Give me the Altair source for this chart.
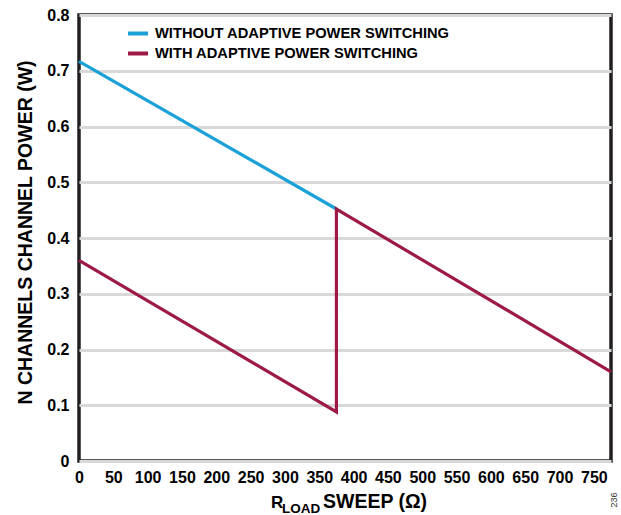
import altair as alt
import pandas as pd

# Data
series_without = "WITHOUT ADAPTIVE POWER SWITCHING"
series_with = "WITH ADAPTIVE POWER SWITCHING"

without_x = [0, 375]
without_y = [0.717, 0.452]

with_x = [0, 375, 375, 775]
with_y = [0.360, 0.088, 0.452, 0.160]

x_ticks = list(range(0, 751, 50))
y_ticks = [0, 0.1, 0.2, 0.3, 0.4, 0.5, 0.6, 0.7, 0.8]

rows = []
for i, (x, y) in enumerate(zip(without_x, without_y)):
    rows.append({"series": series_without, "x": x, "y": y, "order": i})
for i, (x, y) in enumerate(zip(with_x, with_y)):
    rows.append({"series": series_with, "x": x, "y": y, "order": i})
df = pd.DataFrame(rows)

FONT = "Liberation Sans"

lines = alt.Chart(df).mark_line(strokeWidth=3.2).encode(
    x=alt.X("x:Q",
            scale=alt.Scale(domain=[0, 775], nice=False, zero=True),
            axis=alt.Axis(values=x_ticks, title=None, grid=False, ticks=False,
                          domain=False, labelFontSize=16, labelFontWeight="bold",
                          labelFont=FONT, labelColor="black", labelPadding=8,
                          labelFlush=False, labelOverlap=False)),
    y=alt.Y("y:Q",
            scale=alt.Scale(domain=[0, 0.8], nice=False),
            axis=alt.Axis(values=y_ticks, title="N CHANNELS CHANNEL POWER (W)",
                          grid=True, gridColor="#d9d9d9", gridWidth=3,
                          ticks=False, domain=False,
                          labelExpr="datum.value == 0 ? '0' : format(datum.value, '.1f')",
                          labelFontSize=16, labelFontWeight="bold", labelFont=FONT,
                          labelColor="black", labelPadding=10,
                          titleFontSize=19.5, titleFontWeight="bold", titleFont=FONT,
                          titleColor="black", titlePadding=11, titleY=217)),
    color=alt.Color("series:N",
                    scale=alt.Scale(domain=[series_without, series_with],
                                    range=["#1ba1d8", "#9c1a45"]),
                    legend=alt.Legend(title=None, orient="none", legendX=47, legendY=11,
                                      symbolType="stroke", symbolStrokeWidth=4,
                                      symbolSize=400, labelFontSize=14.7,
                                      labelFontWeight="bold", labelFont=FONT,
                                      labelColor="black", rowPadding=4, clipHeight=15,
                                      labelOffset=5, labelLimit=0)),
    order="order:Q",
    detail="series:N",
)

# x axis title with subscript
t_r = alt.Chart(pd.DataFrame({"t": ["R"]})).mark_text(
    fontSize=17, fontWeight="bold", font=FONT, align="left", baseline="alphabetic", color="black"
).encode(x=alt.value(192), y=alt.value(493), text="t:N")
t_load = alt.Chart(pd.DataFrame({"t": ["LOAD"]})).mark_text(
    fontSize=13.5, fontWeight="bold", font=FONT, align="left", baseline="alphabetic", color="black"
).encode(x=alt.value(203), y=alt.value(498), text="t:N")
t_rest = alt.Chart(pd.DataFrame({"t": ["SWEEP (Ω)"]})).mark_text(
    fontSize=19.5, fontWeight="bold", font=FONT, align="left", baseline="alphabetic", color="black"
).encode(x=alt.value(244), y=alt.value(493), text="t:N")
t_fig = alt.Chart(pd.DataFrame({"t": ["236"]})).mark_text(
    fontSize=9, font=FONT, align="center", baseline="middle", color="#333333", angle=270
).encode(x=alt.value(535), y=alt.value(485), text="t:N")

chart = alt.layer(lines, t_r, t_load, t_rest, t_fig).properties(
    width=532, height=446,
    autosize=alt.AutoSizeParams(type="none"),
    padding={"left": 79, "top": 15, "right": 10, "bottom": 54},
    background="white",
).configure_view(stroke="#231f20", strokeWidth=3.5)

chart.save("out.html", embed_options={"renderer": "svg", "actions": False})
